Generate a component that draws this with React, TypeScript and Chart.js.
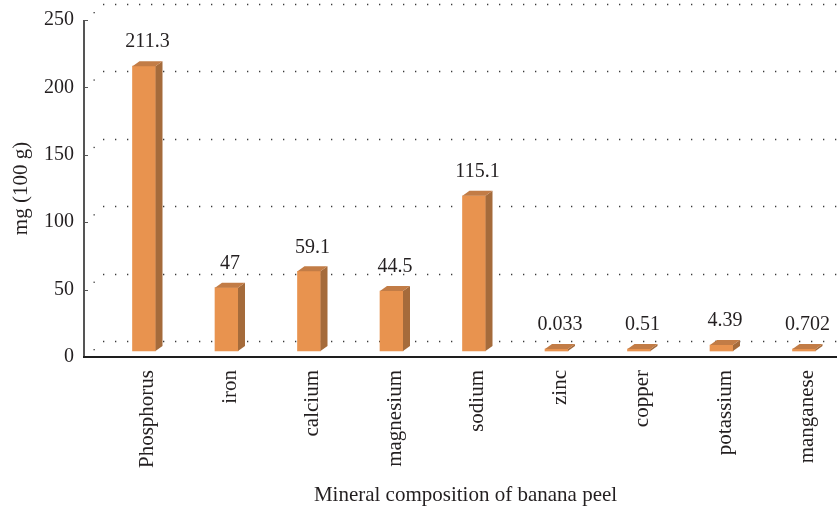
import { useEffect, useRef } from "react";
import { Chart, registerables } from "chart.js";

Chart.register(...registerables);

const categories = ["Phosphorus", "iron", "calcium", "magnesium", "sodium", "zinc", "copper", "potassium", "manganese"];
const values = [211.3, 47, 59.1, 44.5, 115.1, 0.033, 0.51, 4.39, 0.702];
const valueLabels = ["211.3", "47", "59.1", "44.5", "115.1", "0.033", "0.51", "4.39", "0.702"];
const yTicks = [0, 50, 100, 150, 200, 250];
const yTitle = "mg (100 g)";
const xTitle = "Mineral composition of banana peel";

const FONT = "'Liberation Serif', 'Times New Roman', serif";
const TEXT = "#231f20";
const FRONT = "#e8934f";
const SIDE = "#a56b3b";
const TOP = "#c27c46";
const AXIS_X = 84;
const BAR_SHIFT = { x: -3.5, y: -6 };
const DEPTH = { x: 7, y: -5 };
const WALL = { x: 19, y: -16 };
const LABEL_GAP = 24;

const threeD = {
  id: "threeD",
  beforeDatasetsDraw(chart: any) {
    const { ctx, scales, width, chartArea } = chart;
    const y = scales.y;
    ctx.save();
    // back wall dotted grid
    ctx.strokeStyle = "#3a3a3a";
    ctx.lineWidth = 1.3;
    ctx.setLineDash([1.3, 10.7]);
    for (const v of yTicks) {
      const py = Math.round(y.getPixelForValue(v) + WALL.y) + 0.5;
      ctx.beginPath();
      ctx.moveTo(AXIS_X + WALL.x, py);
      ctx.lineTo(width, py);
      ctx.stroke();
      ctx.fillStyle = "#3a3a3a";
      ctx.fillRect(AXIS_X + WALL.x / 2, y.getPixelForValue(v) + WALL.y / 2, 1.3, 1.3);
    }
    ctx.setLineDash([]);
    // front y axis line + small ticks
    ctx.strokeStyle = "#555555";
    ctx.lineWidth = 2;
    ctx.beginPath();
    ctx.moveTo(AXIS_X, y.getPixelForValue(250));
    ctx.lineTo(AXIS_X, y.getPixelForValue(0));
    ctx.stroke();
    ctx.lineWidth = 1;
    for (const v of yTicks) {
      const py = Math.round(y.getPixelForValue(v)) + 0.5;
      ctx.beginPath();
      ctx.moveTo(AXIS_X, py);
      ctx.lineTo(AXIS_X + 4, py);
      ctx.stroke();
    }
    // front x axis line
    ctx.strokeStyle = "#1e1e1e";
    ctx.lineWidth = 2;
    ctx.beginPath();
    ctx.moveTo(AXIS_X - 1, y.getPixelForValue(0));
    ctx.lineTo(width, y.getPixelForValue(0));
    ctx.stroke();
    // x axis title
    ctx.fillStyle = TEXT;
    ctx.font = `21px ${FONT}`;
    ctx.textAlign = "center";
    ctx.textBaseline = "alphabetic";
    ctx.fillText(xTitle, (chartArea.left + chartArea.right) / 2 - 12, chart.height - 5);
    ctx.restore();
    ctx.save();
    ctx.translate(BAR_SHIFT.x, BAR_SHIFT.y);
  },
  afterDatasetsDraw(chart: any) {
    const { ctx } = chart;
    const meta = chart.getDatasetMeta(0);
    meta.data.forEach((bar: any, i: number) => {
      const { x, y, base, width } = bar.getProps(["x", "y", "base", "width"], true);
      const l = x - width / 2;
      const r = x + width / 2;
      ctx.fillStyle = SIDE;
      ctx.beginPath();
      ctx.moveTo(r, y);
      ctx.lineTo(r + DEPTH.x, y + DEPTH.y);
      ctx.lineTo(r + DEPTH.x, base + DEPTH.y);
      ctx.lineTo(r, base);
      ctx.closePath();
      ctx.fill();
      ctx.fillStyle = TOP;
      ctx.beginPath();
      ctx.moveTo(l, y);
      ctx.lineTo(l + DEPTH.x, y + DEPTH.y);
      ctx.lineTo(r + DEPTH.x, y + DEPTH.y);
      ctx.lineTo(r, y);
      ctx.closePath();
      ctx.fill();
      ctx.fillStyle = TEXT;
      ctx.font = `20px ${FONT}`;
      ctx.textAlign = "center";
      ctx.textBaseline = "middle";
      ctx.fillText(valueLabels[i], x + DEPTH.x / 2, y - LABEL_GAP);
    });
    ctx.restore();
  },
};

export default function App() {
  const ref = useRef<HTMLCanvasElement>(null);
  useEffect(() => {
    const chart = new Chart(ref.current as HTMLCanvasElement, {
      type: "bar",
      data: {
        labels: categories,
        datasets: [
          {
            data: values,
            backgroundColor: FRONT,
            borderWidth: 0,
            barThickness: 23,
            minBarLength: 2,
            clip: false,
          } as any,
        ],
      },
      options: {
        animation: false,
        responsive: true,
        maintainAspectRatio: false,
        layout: { padding: { top: 20, right: 29.5, left: 0, bottom: 0 } },
        plugins: { legend: { display: false }, tooltip: { enabled: false } },
        scales: {
          x: {
            type: "category",
            offset: false,
            grid: { display: false, drawTicks: false },
            border: { display: false },
            ticks: {
              minRotation: 90,
              maxRotation: 90,
              autoSkip: false,
              padding: 13,
              color: TEXT,
              font: { family: FONT, size: 21 },
            },
            afterFit: (s: any) => {
              s.height = 149;
              s.paddingLeft = 0;
              s.paddingRight = 0;
            },
          },
          y: {
            min: 0,
            max: 250,
            afterBuildTicks: (s: any) => {
              s.ticks = yTicks.map((v) => ({ value: v }));
            },
            grid: { display: false, drawTicks: false },
            border: { display: false },
            ticks: {
              padding: 73.5,
              color: TEXT,
              font: { family: FONT, size: 20 },
              labelOffset: 0,
            },
            title: {
              display: true,
              text: yTitle,
              color: TEXT,
              font: { family: FONT, size: 21 },
              padding: { top: 9, bottom: 0 },
            },
            afterFit: (s: any) => {
              s.width = 147.5;
              s.paddingTop = 0;
              s.paddingBottom = 0;
            },
          },
        },
      } as any,
      plugins: [threeD],
    });
    return () => chart.destroy();
  }, []);
  return (
    <div style={{ position: "fixed", left: 0, top: 0, width: 837, height: 506 }}>
      <canvas ref={ref} />
    </div>
  );
}
